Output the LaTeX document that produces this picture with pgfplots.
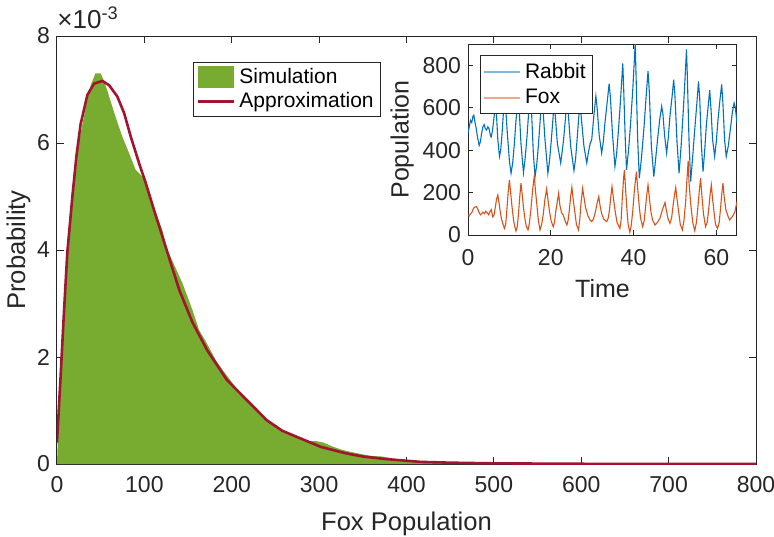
\documentclass[border=0pt]{standalone}
\usepackage{pgfplots}
\pgfplotsset{compat=1.18}
\usepackage{fontspec}
\setmainfont{Liberation Sans}

\definecolor{simgreen}{HTML}{77AC30}
\definecolor{appred}{HTML}{A2142F}
\definecolor{rabbitblue}{HTML}{0072BD}
\definecolor{foxorange}{HTML}{D95319}
\definecolor{axgray}{HTML}{262626}

% fox population histogram (values x 1e-3)
\pgfplotstableread{
x y
0 0
1 0.5
4 1.6
8 2.85
12 3.9
17.6 4.87
25 6.0
33 6.68
38.6 7.08
44 7.30
50 7.30
54 7.15
57.4 6.99
61 6.80
67 6.49
74.7 6.12
82.5 5.81
90 5.5
97.8 5.37
105 5.06
113 4.69
120.7 4.37
125 4.05
132 3.8
143.6 3.38
155 2.88
162.7 2.5
170 2.3
181.8 1.94
190 1.75
201 1.51
210 1.32
220 1.14
230 0.97
239 0.82
250 0.7
258 0.6
270 0.52
280 0.46
288 0.43
296 0.43
305 0.40
315 0.33
325 0.27
335 0.23
350 0.18
360 0.15
372 0.14
385 0.10
395 0.08
400 0.07
420 0.04
440 0.025
470 0.01
500 0
}\simtable

% approximation (values x 1e-3)
\pgfplotstableread{
x y
0 0.4
4 1.6
8 2.85
11.8 3.95
17.6 5.0
22.2 5.75
27 6.35
34.8 6.9
42.4 7.11
52 7.16
59.6 7.08
69 6.87
76.8 6.56
84.4 6.12
94 5.62
101.6 5.25
111 4.75
120.7 4.25
128 3.87
140 3.25
155 2.65
171.8 2.13
194.5 1.57
217 1.2
240 0.82
258 0.62
274 0.51
302 0.32
330.6 0.2
350 0.14
376 0.093
416 0.04
450 0.025
501 0.012
600 0.004
700 0.001
800 0
}\apptable

\pgfplotstableread{
t p
0 480
0.3 510
0.6 540
0.9 530
1.2 560
1.4 565
1.7 530
2.0 500
2.3 460
2.7 422
3.0 440
3.3 480
3.6 510
3.9 520
4.2 500
4.5 495
4.8 510
5.1 500
5.4 470
5.6 462
5.9 490
6.2 540
6.6 610
6.9 560
7.2 450
7.6 370
7.9 400
8.2 470
8.5 560
8.8 640
9.1 600
9.5 480
10.0 350
10.4 291
10.8 340
11.2 430
11.6 540
12.1 650
12.4 580
12.8 430
13.4 294
13.8 360
14.2 450
14.6 560
15.1 680
15.4 560
15.8 380
16.2 275
16.6 330
17.0 420
17.4 530
17.8 640
18.1 600
18.6 450
19.3 291
19.7 350
20.1 440
20.5 540
20.8 620
21.1 560
21.6 430
22.4 339
22.8 400
23.1 450
23.5 540
23.9 640
24.2 580
24.8 420
25.6 304
26.0 360
26.4 460
26.7 540
27.0 610
27.3 570
28.0 420
28.7 339
29.1 390
29.5 430
29.9 450
30.4 560
30.9 654
31.2 600
31.7 470
32.3 386
32.7 440
33.1 530
33.6 620
34.1 713
34.4 650
34.9 480
35.5 323
35.9 380
36.3 480
36.8 620
37.4 808
37.6 700
38.0 450
38.3 307
38.8 400
39.3 530
39.8 680
40.4 900
40.6 760
41.0 450
41.4 268
41.9 360
42.5 500
43.0 640
43.5 772
43.8 680
44.3 420
44.9 275
45.3 350
45.8 450
46.3 540
46.8 606
47.1 570
47.5 470
48.0 386
48.4 460
48.8 560
49.3 650
49.7 732
50.0 660
50.5 440
51.0 291
51.5 420
52.0 580
52.4 720
52.8 874
53.0 750
53.4 450
53.8 252
54.3 370
54.8 500
55.3 620
55.7 724
56.0 640
56.4 420
56.8 299
57.2 400
57.6 520
58.0 600
58.4 682
58.7 600
59.1 450
59.6 370
60.0 440
60.4 540
60.9 640
61.3 709
61.6 620
62.0 450
62.4 370
62.9 420
63.4 500
63.9 580
64.3 622
64.6 600
65 528
}\rabbit

\pgfplotstableread{
t p
0 94
0.3 90
0.6 100
0.9 105
1.2 120
1.5 130
2.0 134
2.3 125
2.6 110
3.0 95
3.3 100
3.6 108
4.0 100
4.3 112
4.6 105
5.0 95
5.3 110
5.6 120
6.0 85
6.3 95
6.6 130
6.9 170
7.2 189
7.5 150
7.8 110
8.1 75
8.4 55
8.8 31
9.1 50
9.4 120
9.7 200
10.0 260
10.3 200
10.6 140
11.0 70
11.3 40
11.6 19
11.9 40
12.2 100
12.5 180
12.8 244
13.1 190
13.4 130
13.8 70
14.1 40
14.5 24
14.8 50
15.2 120
15.6 210
16.0 276
16.3 210
16.7 130
17.0 70
17.4 24
17.8 50
18.2 100
18.6 170
19.0 217
19.3 170
19.7 110
20.1 65
20.6 39
20.9 60
21.2 110
21.6 160
21.9 197
22.2 140
22.6 105
23.0 95
23.4 70
23.9 47
24.2 70
24.5 120
24.8 180
25.1 225
25.4 170
25.8 110
26.2 50
26.7 24
27.0 70
27.3 150
27.7 220
28.0 180
28.4 130
29.0 90
29.5 70
29.9 63
30.3 75
30.8 110
31.2 150
31.6 181
31.9 140
32.3 100
32.8 75
33.5 63
33.9 80
34.2 120
34.5 180
34.8 228
35.1 180
35.5 120
36.0 60
36.7 31
37.0 70
37.3 180
37.6 270
37.8 307
38.1 210
38.4 120
38.7 50
39.1 13
39.4 40
39.8 110
40.2 210
40.7 299
41.0 220
41.4 130
41.7 80
42.2 39
42.6 70
42.9 130
43.2 190
43.5 236
43.8 180
44.2 110
44.6 70
45.2 47
45.8 60
46.4 80
47.0 120
47.6 153
47.9 120
48.3 80
48.8 55
49.2 80
49.5 130
49.9 190
50.2 224
50.5 170
50.9 110
51.3 50
51.8 24
52.2 70
52.6 160
52.9 260
53.2 350
53.4 250
53.8 150
54.3 60
54.8 20
55.2 60
55.5 120
55.9 210
56.2 268
56.5 190
56.9 100
57.4 39
57.8 60
58.1 110
58.5 190
58.8 236
59.1 170
59.5 100
59.8 50
60.3 31
60.7 60
61.0 120
61.3 190
61.6 244
61.9 180
62.3 120
62.8 90
63.2 71
63.6 80
64.0 90
64.5 110
65 157
}\fox

\begin{document}
\begin{tikzpicture}
\path[use as bounding box] (-28.5pt,-36pt) rectangle (358.5pt,232pt);
\begin{axis}[
    at={(0,0)}, anchor=south west,
    scale only axis,
    width=349.5pt, height=214pt,
    xmin=0, xmax=800, ymin=0, ymax=8,
    xtick={0,100,...,800},
    ytick={0,2,4,6,8},
    tick align=inside,
    major tick length=3.5pt,
    axis line style={axgray, line width=0.5pt},
    every tick/.style={axgray, line width=0.5pt},
    tick label style={font=\fontsize{11.5}{13}\selectfont, text=axgray},
    xticklabel style={yshift=-2.5pt},
    /pgf/number format/assume math mode=true,
    xlabel={Fox Population},
    ylabel={Probability},
    label style={font=\fontsize{12.8}{15}\selectfont, text=axgray},
    xlabel style={yshift=-2.8pt},
    ylabel style={yshift=-3.5pt},
    legend style={at={(0.195,0.94)}, anchor=north west, draw=axgray,
        line width=0.5pt, font=\fontsize{10.5}{12.5}\selectfont,
        inner sep=1.5pt, row sep=0pt, nodes={inner ysep=1.5pt}},
    legend cell align=left,
    after end axis/.code={
        \node[anchor=base west, inner sep=0pt, text=axgray,
            font=\fontsize{13}{15}\selectfont]
            at ([yshift=4pt]rel axis cs:0,1) {×10\textsuperscript{-3}};
    },
]
\addplot[fill=simgreen, draw=none,
    legend image code/.code={\fill[simgreen] (0pt,-5.5pt) rectangle (18pt,5.5pt);}]
    table[x=x, y=y] {\simtable} \closedcycle;
\addlegendentry{Simulation}
\addplot[appred, line width=1.3pt,
    legend image code/.code={\draw[appred, line width=1.3pt] (0pt,0pt) -- (18pt,0pt);}]
    table[x=x, y=y] {\apptable};
\addlegendentry{Approximation}
\end{axis}

\begin{axis}[
    at={(205.5pt,114.5pt)}, anchor=south west,
    scale only axis,
    width=134.5pt, height=95.5pt,
    xmin=0, xmax=65, ymin=0, ymax=900,
    xtick={0,20,40,60},
    ytick={0,200,...,800},
    tick align=inside,
    major tick length=2.5pt,
    axis background/.style={fill=white},
    axis line style={axgray, line width=0.5pt},
    every tick/.style={axgray, line width=0.5pt},
    tick label style={font=\fontsize{11.5}{13}\selectfont, text=axgray},
    xticklabel style={yshift=-3.5pt},
    /pgf/number format/assume math mode=true,
    xlabel={Time},
    ylabel={Population},
    label style={font=\fontsize{12.5}{15}\selectfont, text=axgray},
    xlabel style={yshift=0pt},
    ylabel style={yshift=-2.5pt},
    legend style={at={(0.045,0.94)}, anchor=north west, draw=axgray,
        line width=0.5pt, font=\fontsize{10.5}{12.5}\selectfont,
        inner sep=1.5pt, row sep=0pt},
    legend cell align=left,
]
\addplot[rabbitblue, line width=0.55pt,
    legend image code/.code={\draw[rabbitblue!50, line width=0.7pt] (0pt,0pt) -- (18pt,0pt);}]
    table[x=t, y=p] {\rabbit};
\addlegendentry{Rabbit}
\addplot[foxorange, line width=0.55pt,
    legend image code/.code={\draw[foxorange!50, line width=0.7pt] (0pt,0pt) -- (18pt,0pt);}]
    table[x=t, y=p] {\fox};
\addlegendentry{Fox}
\end{axis}
\end{tikzpicture}
\end{document}
